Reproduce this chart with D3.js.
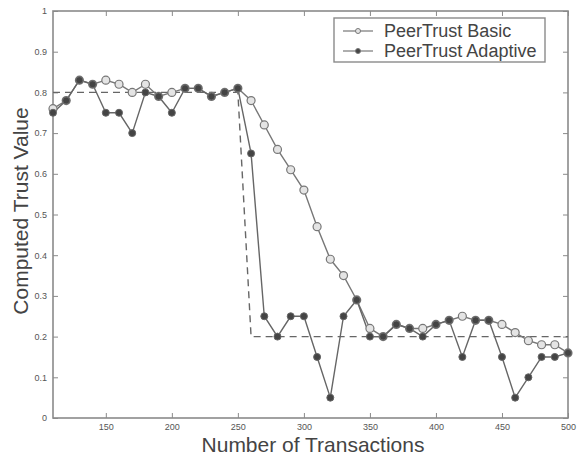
<!DOCTYPE html>
<html>
<head>
<meta charset="utf-8">
<script src="https://cdn.jsdelivr.net/npm/d3@7"></script>
<style>
  body { margin: 0; background: #fff; }
  svg { font-family: "Liberation Sans", Arial, sans-serif; }
</style>
</head>
<body>
<svg id="chart" width="578" height="460"></svg>
<script>
const transactions = [110, 120, 130, 140, 150, 160, 170, 180, 190, 200,
    210, 220, 230, 240, 250, 260, 270, 280, 290, 300,
    310, 320, 330, 340, 350, 360, 370, 380, 390, 400,
    410, 420, 430, 440, 450, 460, 470, 480, 490, 500];

const basicTrust = [0.76, 0.78, 0.83, 0.82, 0.83, 0.82, 0.80, 0.82, 0.79, 0.80,
    0.81, 0.81, 0.79, 0.80, 0.81, 0.78, 0.72, 0.66, 0.61, 0.56,
    0.47, 0.39, 0.35, 0.29, 0.22, 0.20, 0.23, 0.22, 0.22, 0.23,
    0.24, 0.25, 0.24, 0.24, 0.23, 0.21, 0.19, 0.18, 0.18, 0.16];

const adaptiveTrust = [0.75, 0.78, 0.83, 0.82, 0.75, 0.75, 0.70, 0.80, 0.79, 0.75,
    0.81, 0.81, 0.79, 0.80, 0.81, 0.65, 0.25, 0.20, 0.25, 0.25,
    0.15, 0.05, 0.25, 0.29, 0.20, 0.20, 0.23, 0.22, 0.20, 0.23,
    0.24, 0.15, 0.24, 0.24, 0.15, 0.05, 0.10, 0.15, 0.15, 0.16];

// the real trust level of the peer (dashed)
const actualX = [110, 250, 260, 500];
const actualTrust = [0.8, 0.8, 0.2, 0.2];

const xTicks = [150, 200, 250, 300, 350, 400, 450, 500];
const yTicks = [0, 0.1, 0.2, 0.3, 0.4, 0.5, 0.6, 0.7, 0.8, 0.9, 1];

const svg = d3.select('#chart');
const margin = { top: 11, right: 10, bottom: 42, left: 53 };
const width = +svg.attr("width") - margin.left - margin.right;
const height = +svg.attr("height") - margin.top - margin.bottom;
const g = svg.append("g").attr("transform", `translate(${margin.left},${margin.top})`);

const x = d3.scaleLinear().domain([110, 500]).range([0, width]);
const y = d3.scaleLinear().domain([0, 1]).range([height, 0]);

const axisColor = "#8a8a8a";
const textColor = "#555";

// axes, ticks pointing inwards, boxed like matlab
const styleAxis = sel => {
    sel.select(".domain").remove();
    sel.selectAll(".tick line").attr("stroke", axisColor);
    sel.selectAll(".tick text").attr("fill", textColor).style("font-size", "9px");
};

g.append("g")
    .attr("transform", `translate(0,${height})`)
    .call(d3.axisBottom(x).tickValues(xTicks).tickSizeInner(-5).tickPadding(6))
    .call(styleAxis);

g.append("g")
    .call(d3.axisTop(x).tickValues(xTicks).tickSizeInner(-5).tickFormat(""))
    .call(styleAxis);

g.append("g")
    .call(d3.axisLeft(y).tickValues(yTicks).tickSizeInner(-5).tickPadding(6).tickFormat(d3.format("")))
    .call(styleAxis);

g.append("g")
    .attr("transform", `translate(${width},0)`)
    .call(d3.axisRight(y).tickValues(yTicks).tickSizeInner(-5).tickFormat(""))
    .call(styleAxis);

g.append("rect")
    .attr("width", width)
    .attr("height", height)
    .attr("fill", "none")
    .attr("stroke", axisColor)
    .attr("stroke-width", 1.6);

const line = d3.line()
    .x(d => x(d[0]))
    .y(d => y(d[1]));

// actual trust, dashed
g.append("path")
    .datum(actualX.map((v, i) => [v, actualTrust[i]]))
    .attr("d", line)
    .attr("fill", "none")
    .attr("stroke", "#666")
    .attr("stroke-width", 1.4)
    .attr("stroke-dasharray", "7,5");

const basicPts = transactions.map((t, i) => [t, basicTrust[i]]);
const adaptivePts = transactions.map((t, i) => [t, adaptiveTrust[i]]);

g.append("path")
    .datum(basicPts)
    .attr("d", line)
    .attr("fill", "none")
    .attr("stroke", "#777")
    .attr("stroke-width", 1.4);

g.append("path")
    .datum(adaptivePts)
    .attr("d", line)
    .attr("fill", "none")
    .attr("stroke", "#666")
    .attr("stroke-width", 1.4);

g.selectAll(".basic")
    .data(basicPts)
    .enter().append("circle")
    .attr("class", "basic")
    .attr("cx", d => x(d[0]))
    .attr("cy", d => y(d[1]))
    .attr("r", 4)
    .attr("fill", "#e4e4e4")
    .attr("stroke", "#777")
    .attr("stroke-width", 1.2);

g.selectAll(".adaptive")
    .data(adaptivePts)
    .enter().append("circle")
    .attr("class", "adaptive")
    .attr("cx", d => x(d[0]))
    .attr("cy", d => y(d[1]))
    .attr("r", 3.5)
    .attr("fill", "#444")
    .attr("stroke", "#666")
    .attr("stroke-width", 1);

// legend
const legend = g.append("g").attr("transform", "translate(281,7)");
legend.append("rect")
    .attr("width", 211)
    .attr("height", 44)
    .attr("fill", "#fff")
    .attr("stroke", axisColor)
    .attr("stroke-width", 1.4);

const legendItems = [
    { label: "PeerTrust Basic", fill: "#e4e4e4" },
    { label: "PeerTrust Adaptive", fill: "#444" }
];

legendItems.forEach((item, i) => {
    const row = legend.append("g").attr("transform", `translate(0,${13 + i * 20})`);
    row.append("line")
        .attr("x1", 9).attr("x2", 39)
        .attr("stroke", "#777").attr("stroke-width", 1.2);
    row.append("circle")
        .attr("cx", 24).attr("r", 2.5)
        .attr("fill", item.fill).attr("stroke", "#777");
    row.append("text")
        .attr("x", 50).attr("dy", "0.35em")
        .attr("fill", "#444")
        .style("font-size", "18px")
        .text(item.label);
});

// axis titles
svg.append("text")
    .attr("x", 313)
    .attr("y", 452)
    .attr("text-anchor", "middle")
    .attr("fill", "#444")
    .style("font-size", "21px")
    .text("Number of Transactions");

svg.append("text")
    .attr("transform", `translate(28,${margin.top + 200}) rotate(-90)`)
    .attr("text-anchor", "middle")
    .attr("fill", "#444")
    .style("font-size", "21px")
    .text("Computed Trust Value");
</script>
</body>
</html>
